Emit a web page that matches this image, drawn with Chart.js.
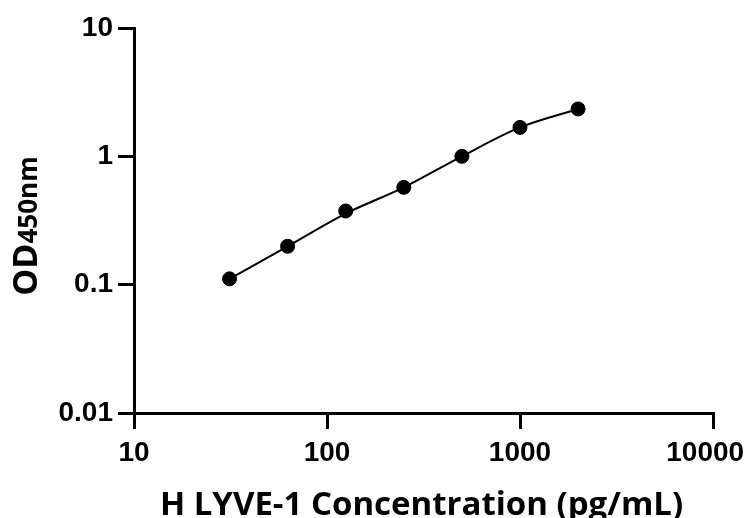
<!DOCTYPE html>
<html>
<head>
<meta charset="utf-8">
<script src="https://cdn.jsdelivr.net/npm/chart.js@4"></script>
<style>
  html, body { margin: 0; padding: 0; background: #fff; }
  #wrap { width: 753px; height: 518px; }
</style>
</head>
<body>
<div id="wrap"><canvas id="c" width="753" height="518"></canvas></div>
<script>
const concentrations = [31.25, 62.5, 125, 250, 500, 1000, 2000];
const odValues = [0.111, 0.199, 0.375, 0.573, 1.0, 1.68, 2.34];
const fitValues = [0.111, 0.199, 0.358, 0.573, 1.0, 1.68, 2.34];
const xTicks = [10, 100, 1000, 10000];
const yTicks = [0.01, 0.1, 1, 10];
const xTitle = 'H LYVE-1 Concentration (pg/mL)';
const yTitleMain = 'OD';
const yTitleSub = '450nm';

const points = concentrations.map((x, i) => ({ x: x, y: odValues[i] }));
const fitPoints = concentrations.map((x, i) => ({ x: x, y: fitValues[i] }));

const titlePlugin = {
  id: 'titles',
  afterDraw(chart) {
    const ctx = chart.ctx;
    const area = chart.chartArea;
    ctx.save();
    ctx.fillStyle = '#000';
    ctx.textBaseline = 'alphabetic';
    ctx.font = 'bold 33px "Open Sans"';
    ctx.textAlign = 'center';
    ctx.fillText(xTitle, (area.left + area.right) / 2 - 2, 515);
    ctx.translate(37, 226);
    ctx.rotate(-Math.PI / 2);
    ctx.textAlign = 'left';
    const f1 = 'bold 34px "Open Sans"';
    const f2 = 'bold 26px "Open Sans"';
    ctx.font = f1;
    const w1 = ctx.measureText(yTitleMain).width;
    ctx.font = f2;
    const w2 = ctx.measureText(yTitleSub).width;
    const start = -(w1 + w2) / 2;
    ctx.font = f1;
    ctx.fillText(yTitleMain, start, 0);
    ctx.font = f2;
    ctx.fillText(yTitleSub, start + w1, 0);
    ctx.restore();
  }
};

const tickFont = { family: '"Liberation Sans", Arial, sans-serif', size: 28, weight: 'bold' };

new Chart(document.getElementById('c'), {
  type: 'scatter',
  data: {
    datasets: [
      {
        type: 'line',
        data: fitPoints,
        borderColor: '#000',
        borderWidth: 2,
        pointRadius: 0,
        cubicInterpolationMode: 'monotone',
        fill: false
      },
      {
        data: points,
        backgroundColor: '#000',
        borderColor: '#000',
        pointRadius: 7,
        pointHoverRadius: 7
      }
    ]
  },
  options: {
    responsive: false,
    animation: false,
    events: [],
    layout: { padding: { top: 28, right: 40, left: 0, bottom: 0 } },
    plugins: { legend: { display: false }, tooltip: { enabled: false } },
    scales: {
      x: {
        type: 'logarithmic',
        min: 10, max: 10000,
        afterBuildTicks: s => { s.ticks = xTicks.map(v => ({ value: v })); },
        afterFit: s => { s.height = 105; s.paddingLeft = 0; s.paddingRight = 0; },
        ticks: {
          color: '#000', font: tickFont, padding: 7, maxRotation: 0, autoSkip: false,
          callback: (v, i, arr) => (i === arr.length - 1 ? String(v) + '\u2007' : String(v))
        },
        grid: { drawOnChartArea: false, drawTicks: true, tickLength: 16, color: '#000', lineWidth: 3 },
        border: { display: true, color: '#000', width: 3 }
      },
      y: {
        type: 'logarithmic',
        min: 0.01, max: 10,
        afterBuildTicks: s => { s.ticks = yTicks.map(v => ({ value: v })); },
        afterFit: s => { s.width = 134; s.paddingTop = 0; s.paddingBottom = 0; },
        ticks: {
          color: '#000', font: tickFont, padding: 5, autoSkip: false,
          callback: v => String(v)
        },
        grid: { drawOnChartArea: false, drawTicks: true, tickLength: 16, color: '#000', lineWidth: 3 },
        border: { display: true, color: '#000', width: 3 }
      }
    }
  },
  plugins: [titlePlugin]
});
</script>
</body>
</html>
